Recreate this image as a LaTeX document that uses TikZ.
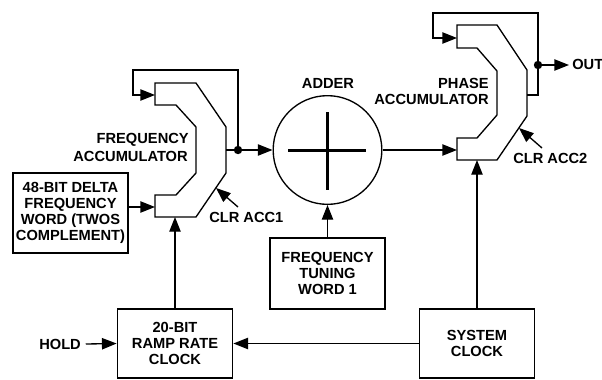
\documentclass[tikz,border=0pt]{standalone}
\usepackage{fontspec}
\setmainfont{Liberation Sans}
\usetikzlibrary{arrows.meta}
\tikzset{
 line/.style={line width=1pt},
 arr/.style={line width=1pt,line join=miter,-{Triangle[length=11pt,width=8.5pt]}},
 lab/.style={font=\fontsize{11}{12}\selectfont\bfseries,align=center,inner sep=0pt},
 bx/.style={draw,line width=1.1pt,inner sep=0pt,align=center,font=\fontsize{11}{12}\selectfont\bfseries},
 acc/.style={draw,line width=1pt,line join=miter}
}
\begin{document}
\begin{tikzpicture}[x=0.75pt,y=-0.75pt]
\useasboundingbox (0,0) rectangle (602,379);
\draw[acc] (155,83) -- (196,83) -- (226,127) -- (226,173) -- (196,217) -- (155,217) -- (155,195) -- (176,195) -- (196,173) -- (196,127) -- (176,105) -- (155,105) -- cycle;
\draw[acc] (457,25) -- (497,25) -- (527,70) -- (527,116) -- (497,160) -- (457,160) -- (457,138) -- (477,138) -- (497,115) -- (497,71) -- (477,48) -- (457,48) -- cycle;
\coordinate (fo) at (226,150);
\coordinate (fd) at (238,150);
\coordinate (ft) at (238,70);
\coordinate (fl) at (133,70);
\coordinate (fb) at (133,95);
\coordinate (fi) at (155,95);
\coordinate (fj) at (155,207);
\coordinate (fk) at (175,217);
\node[circle,draw,line width=1pt,minimum size=81.5pt,inner sep=0pt] (add) at (327.5,150) {};
\draw[line width=1.6pt] (288,150.5) -- (366,150.5) (327.5,112) -- (327.5,190);
\node[bx,minimum width=86.5pt,minimum height=60pt] (delta) at (70.5,213) {48-BIT DELTA\\FREQUENCY\\WORD (TWOS\\COMPLEMENT)};
\node[bx,minimum width=86.5pt,minimum height=53pt] (tune) at (327.5,273.5) {FREQUENCY\\TUNING\\WORD 1};
\node[bx,minimum width=86.5pt,minimum height=51.5pt] (ramp) at (175,343.5) {20-BIT\\RAMP RATE\\CLOCK};
\node[bx,minimum width=86.5pt,minimum height=51.5pt] (sys) at (477,343.5) {SYSTEM\\CLOCK};
\node[lab,anchor=east] (l1) at (189,140) {FREQUENCY};
\node[lab,anchor=east] (l2) at (188,156) {ACCUMULATOR};
\node[lab] (l3) at (328,83) {ADDER};
\node[lab,anchor=east] (l4) at (489,83) {PHASE};
\node[lab,anchor=east] (l5) at (489,99) {ACCUMULATOR};
\node[lab,anchor=west] (c1) at (209,217) {CLR ACC1};
\node[lab,anchor=west] (c2) at (513,158) {CLR ACC2};
\node[lab,anchor=west] (out) at (572,64.5) {OUT};
\node[lab,anchor=west] (hold) at (39,344) {HOLD};
\coordinate (e1) at (238,207);
\coordinate (e2) at (216,188);
\draw[line] (fo) -- (fd);
\draw[arr] (fd) -- (ft) -- (fl) -- (fb) -- (fi);
\draw[arr] (fd) -- (add.west);
\draw[arr] (delta.east |- fj) -- (fj);
\fill (fd) circle (4.2);
\draw[arr] (e1) -- (e2);
\coordinate (po) at (527,95);
\coordinate (pm) at (538,95);
\coordinate (pd) at (538,65);
\coordinate (pt) at (538,13);
\coordinate (pl) at (433,13);
\coordinate (pb) at (433,38);
\coordinate (pi) at (457,38);
\coordinate (ph) at (457,150);
\coordinate (pk) at (477,160);
\coordinate (e3) at (542,148);
\coordinate (e4) at (519,128);
\coordinate (pe) at (569,65);
\draw[arr] (po) -- (pm) -- (pt) -- (pl) -- (pb) -- (pi);
\draw[arr] (pd) -- (pe);
\fill (pd) circle (4.2);
\draw[arr] (e3) -- (e4);
\draw[arr] (add.east) -- (ph);
\draw[arr] (tune.north) -- (add.south);
\draw[arr] (ramp.north) -- (fk);
\draw[arr] (sys.north) -- (pk);
\draw[arr] (sys.west) -- (ramp.east);
\draw[arr] ([xshift=3.5pt]hold.east) -- (ramp.west);
\end{tikzpicture}
\end{document}
